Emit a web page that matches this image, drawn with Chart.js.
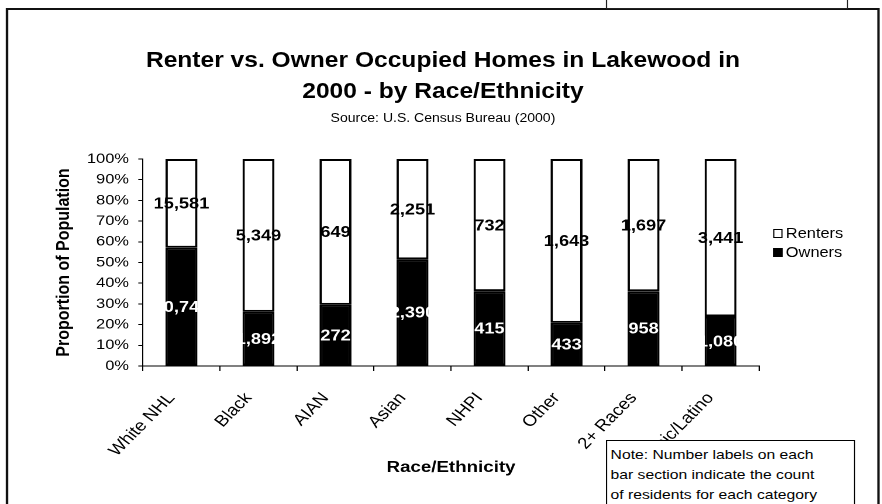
<!DOCTYPE html>
<html>
<head>
<meta charset="utf-8">
<script src="https://cdn.jsdelivr.net/npm/chart.js@4.4.1/dist/chart.umd.min.js"></script>
<style>
html,body{margin:0;padding:0;background:#fff;overflow:hidden;width:882px;height:504px}
#wrap{position:absolute;left:0;top:0;width:754px;height:504px;transform:scaleX(1.16976);transform-origin:0 0;font-family:"Liberation Sans",Arial,sans-serif;color:#000}
#frame{position:absolute;left:4.5px;top:8px;width:747px;height:520px;border:2px solid #111;box-sizing:border-box}
#topbox{position:absolute;left:518px;top:-6px;width:206.5px;height:15px;border:1px solid #222;box-sizing:border-box}
#c{position:absolute;left:0;top:0;width:754px;height:504px}
#title{position:absolute;left:0;width:757.4px;top:44.2px;text-align:center;font-weight:bold;font-size:22px;line-height:31px;white-space:nowrap;transform:scaleX(0.955);transform-origin:378.7px 0}
#subtitle{position:absolute;left:0;width:757.4px;top:111px;text-align:center;font-size:12px;line-height:14px;white-space:nowrap}
#legend{position:absolute;left:660.8px;top:224px;font-size:14px;line-height:19px}
#legend .it{display:flex;align-items:center;white-space:nowrap}
#legend .mk{width:8.5px;height:8.5px;box-sizing:border-box;border:1.6px solid #000;margin-right:2.5px}
#note{position:absolute;left:518px;top:440px;width:213px;height:80px;border:1.5px solid #000;background:#fff;box-sizing:border-box;padding:3.5px 3px;font-size:13.4px;line-height:20px;white-space:nowrap;z-index:5}
</style>
</head>
<body>
<div id="wrap">
  <div id="frame"></div>
  <div id="topbox"></div>
  <canvas id="c" width="754" height="504"></canvas>
  <div id="title">Renter vs. Owner Occupied Homes in Lakewood in<br>2000 - by Race/Ethnicity</div>
  <div id="subtitle">Source: U.S. Census Bureau (2000)</div>
  <div id="legend">
    <div class="it"><div class="mk" style="background:#fff"></div><span>Renters</span></div>
    <div class="it"><div class="mk" style="background:#000"></div><span>Owners</span></div>
  </div>
  <div id="note">Note: Number labels on each<br>bar section indicate the count<br>of residents for each category</div>
</div>
<script>
const categories = ["White NHL", "Black", "AIAN", "Asian", "NHPI", "Other", "2+ Races", "Hispanic/Latino"];
const ownerCounts = [20748, 1892, 272, 2390, 415, 433, 958, 1080];
const renterCounts = [15581, 5349, 649, 2251, 732, 1643, 1697, 3441];
const yTicks = [0, 10, 20, 30, 40, 50, 60, 70, 80, 90, 100];

const ownerPct = ownerCounts.map((o, i) => 100 * o / (o + renterCounts[i]));
const renterPct = renterCounts.map((r, i) => 100 * r / (r + ownerCounts[i]));

const FONT = '"Liberation Sans", Arial, sans-serif';
Chart.defaults.font.family = FONT;
Chart.defaults.color = '#000';

const countLabels = {
  id: 'countLabels',
  afterDatasetsDraw(chart) {
    const ctx = chart.ctx;
    ctx.save();
    ctx.font = 'bold 15.5px ' + FONT;
    ctx.textAlign = 'center';
    ctx.textBaseline = 'middle';
    chart.data.datasets.forEach((ds, di) => {
      const meta = chart.getDatasetMeta(di);
      const counts = di === 0 ? ownerCounts : renterCounts;
      ctx.fillStyle = di === 0 ? '#fff' : '#000';
      meta.data.forEach((bar, i) => {
        const p = bar.getProps(['x', 'y', 'base'], true);
        ctx.fillText(counts[i].toLocaleString('en-US'), p.x, (p.y + p.base) / 2 + 1);
      });
    });
    ctx.restore();
  }
};

new Chart(document.getElementById('c'), {
  type: 'bar',
  data: {
    labels: categories,
    datasets: [
      { label: 'Owners', data: ownerPct, backgroundColor: '#000', borderColor: '#000', borderWidth: 2, borderSkipped: false, barPercentage: 0.415, categoryPercentage: 1 },
      { label: 'Renters', data: renterPct, backgroundColor: '#fff', borderColor: '#000', borderWidth: 2, borderSkipped: false, barPercentage: 0.415, categoryPercentage: 1 }
    ]
  },
  options: {
    responsive: false,
    animation: false,
    devicePixelRatio: 2,
    layout: { padding: { left: 10, right: 105.1, top: 159, bottom: 0 } },
    plugins: { legend: { display: false }, title: { display: false }, tooltip: { enabled: false } },
    scales: {
      x: {
        stacked: true,
        grid: { display: true, drawOnChartArea: false, drawTicks: true, tickLength: 5, color: '#000', offset: true },
        border: { color: '#000', width: 1 },
        ticks: { color: '#000', font: { size: 16 }, minRotation: 49.5, maxRotation: 49.5, padding: 18, labelOffset: -8.5, autoSkip: false },
        title: { display: true, text: 'Race/Ethnicity', color: '#000', font: { size: 16, weight: 'bold' }, padding: { top: 0, bottom: 27 } },
        afterFit(s) { s.height = 138; }
      },
      y: {
        stacked: true,
        min: 0, max: 100,
        afterBuildTicks(s) { s.ticks = yTicks.map(v => ({ value: v })); },
        ticks: { color: '#000', font: { size: 14 }, padding: 8, callback: v => v + '%' },
        grid: { drawOnChartArea: false, tickLength: 4, color: '#000' },
        border: { color: '#000', width: 1 },
        title: { display: true, text: 'Proportion of Population', color: '#000', font: { size: 16, weight: 'bold' }, padding: { top: 35, bottom: 0 } },
        afterFit(s) { s.width = 112.2; }
      }
    }
  },
  plugins: [countLabels]
});
</script>
</body>
</html>
